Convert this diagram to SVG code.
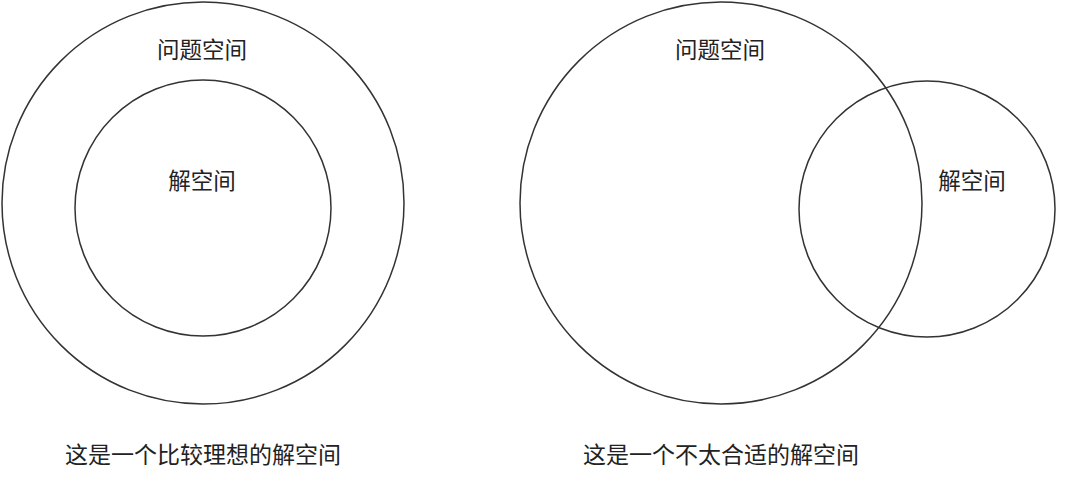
<svg xmlns="http://www.w3.org/2000/svg" width="1080" height="499" viewBox="0 0 1080 499">
<style>
.c{fill:none;stroke:#333;stroke-width:1.5}
.t{font-family:"Noto Sans CJK SC","Noto Sans",sans-serif;font-size:22.5px;fill:#222;text-anchor:middle}
.cap{font-family:"Noto Sans CJK SC","Noto Sans",sans-serif;font-size:23px;fill:#222}
</style>
<rect width="1080" height="499" fill="#fff"/>
<g id="left-problem"><circle class="c" cx="203" cy="203" r="201"/><text class="t" x="202" y="58">问题空间</text></g>
<g id="left-solution"><circle class="c" cx="203" cy="208" r="128"/><text class="t" x="202" y="189">解空间</text></g>
<g id="right-problem"><circle class="c" cx="721" cy="203" r="201"/><text class="t" x="720" y="58">问题空间</text></g>
<g id="right-solution"><circle class="c" cx="927" cy="209" r="128"/><text class="t" x="972" y="189">解空间</text></g>
<g id="connectors"></g>
<g id="captions">
<text class="cap" x="65" y="463">这是一个比较理想的解空间</text>
<text class="cap" x="583" y="463">这是一个不太合适的解空间</text>
</g>
</svg>
